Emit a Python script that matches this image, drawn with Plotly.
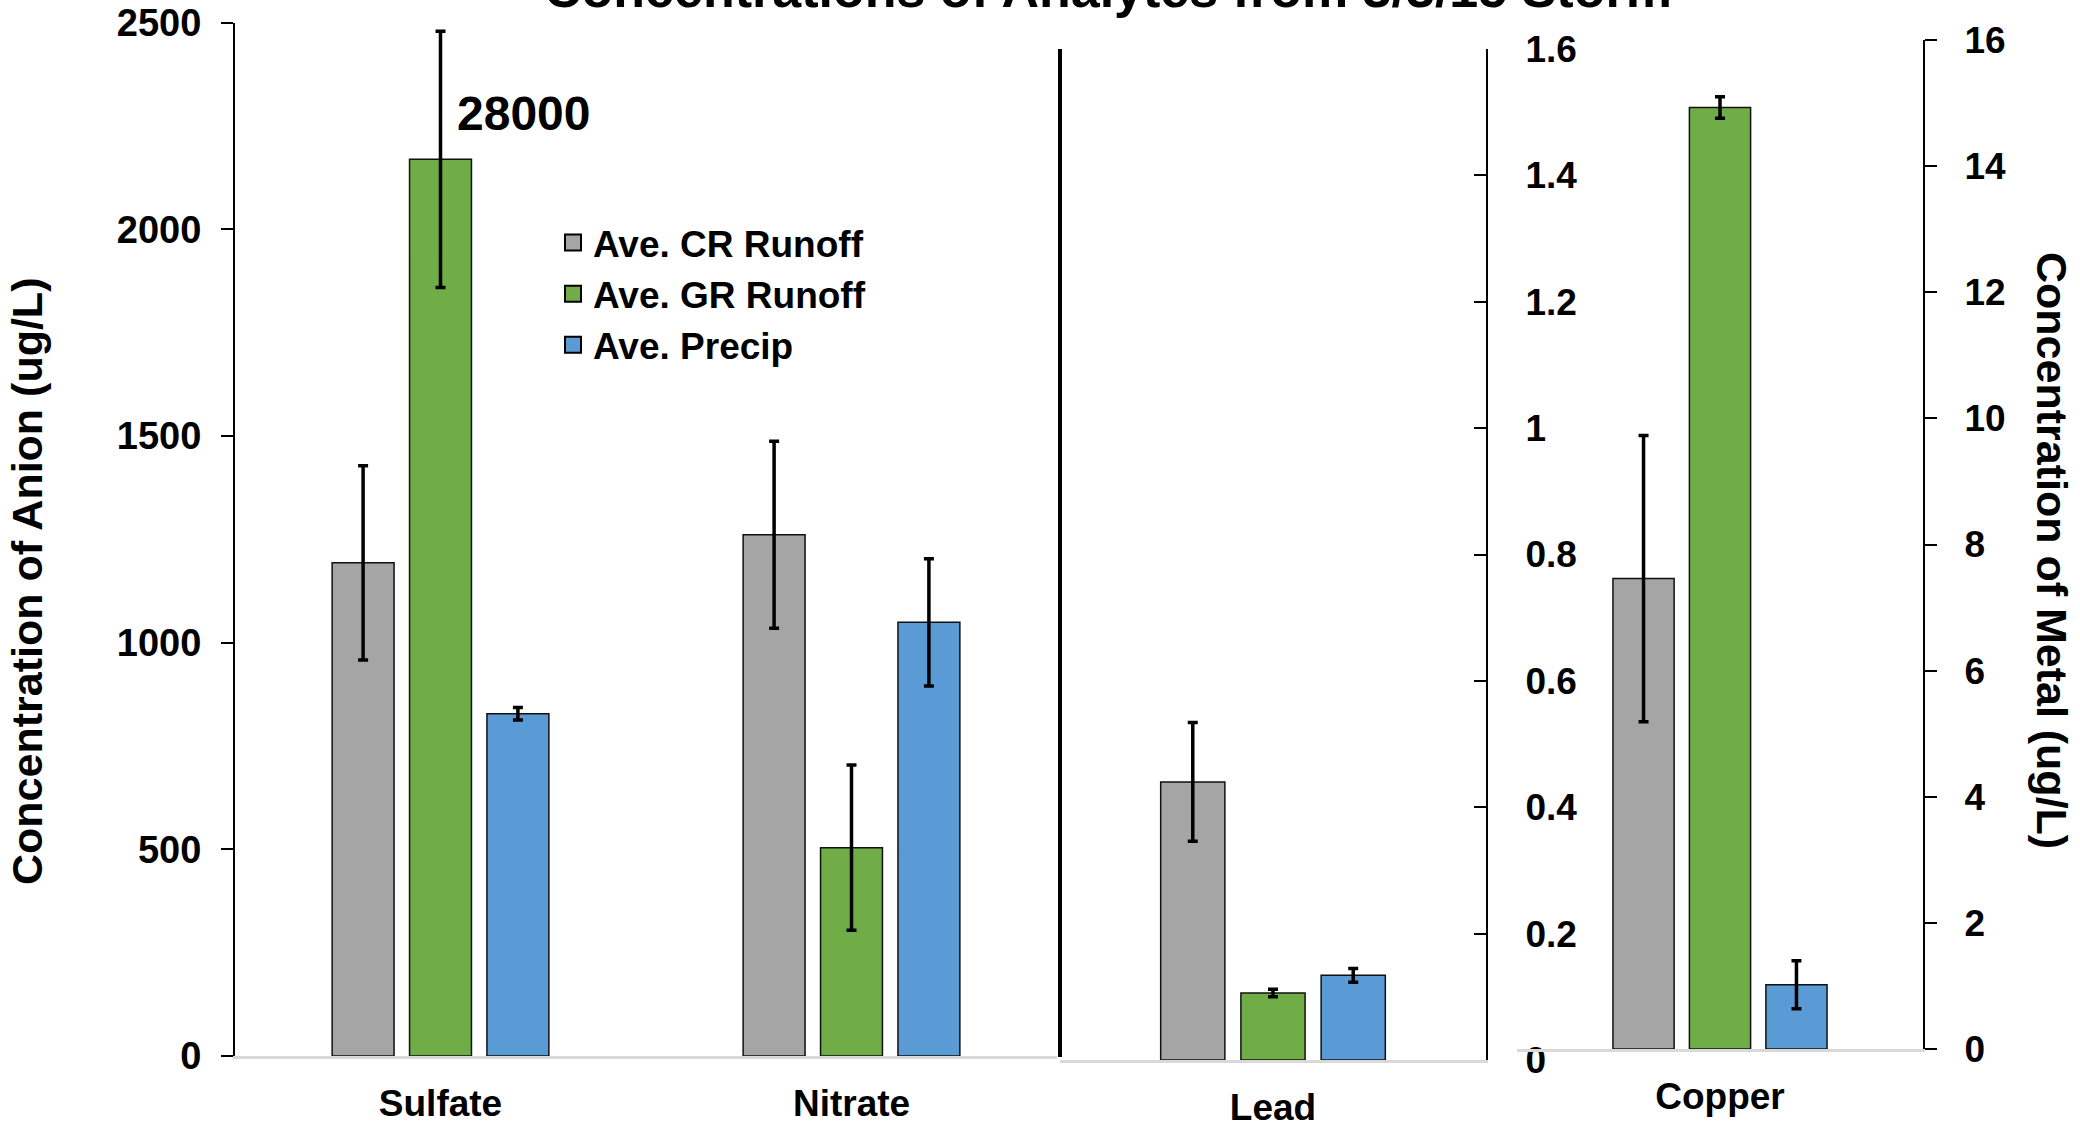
import plotly.graph_objects as go

# ---- data -------------------------------------------------------------
series_names = ["Ave. CR Runoff", "Ave. GR Runoff", "Ave. Precip"]
series_colors = ["#A5A5A5", "#70AD47", "#5B9BD5"]

# anions (ug/L), left axis
anion_categories = ["Sulfate", "Nitrate"]
cr_anion = [1193, 1261]
cr_anion_err = [235, 226]
gr_anion = [2169, 504]
gr_anion_err = [310, 200]
precip_anion = [828, 1049]
precip_anion_err = [15, 154]
sulfate_gr_reported = "28000"   # off-scale value printed above the truncated bar

# lead (ug/L), middle axis
lead_category = ["Lead"]
cr_lead = [0.44]
cr_lead_err = [0.094]
gr_lead = [0.106]
gr_lead_err = [0.006]
precip_lead = [0.134]
precip_lead_err = [0.011]

# copper (ug/L), right axis
copper_category = ["Copper"]
cr_copper = [7.46]
cr_copper_err = [2.27]
gr_copper = [14.93]
gr_copper_err = [0.17]
precip_copper = [1.02]
precip_copper_err = [0.38]

anion_ticks = [0, 500, 1000, 1500, 2000, 2500]
lead_ticks = [0, 0.2, 0.4, 0.6, 0.8, 1, 1.2, 1.4, 1.6]
copper_ticks = [0, 2, 4, 6, 8, 10, 12, 14, 16]

# ---- styling ----------------------------------------------------------
FONT = "Liberation Sans, Arial, sans-serif"
W, H = 2080, 1134


def bold(size):
    return dict(family=FONT, size=size, color="black", weight="bold")


fig = go.Figure()

panels = [
    ("x", "y", anion_categories,
     [(cr_anion, cr_anion_err), (gr_anion, gr_anion_err), (precip_anion, precip_anion_err)]),
    ("x2", "y2", lead_category,
     [(cr_lead, cr_lead_err), (gr_lead, gr_lead_err), (precip_lead, precip_lead_err)]),
    ("x3", "y3", copper_category,
     [(cr_copper, cr_copper_err), (gr_copper, gr_copper_err), (precip_copper, precip_copper_err)]),
]

for xa, ya, cats, series in panels:
    for name, color, (vals, errs) in zip(series_names, series_colors, series):
        fig.add_trace(go.Bar(
            x=cats, y=vals, name=name, xaxis=xa, yaxis=ya,
            marker=dict(color=color, line=dict(color="#111111", width=1.5)),
            error_y=dict(type="data", array=errs, visible=True,
                         color="black", thickness=3.5, width=5),
            offsetgroup=name, showlegend=False,
        ))

# legend entries with square swatches
for name, color in zip(series_names, series_colors):
    fig.add_trace(go.Scatter(
        x=[None], y=[None], mode="markers", name=name,
        marker=dict(symbol="square", size=16, color=color,
                    line=dict(color="black", width=2)),
        xaxis="x", yaxis="y",
    ))


def px_x(p):
    return p / W


def px_y(p):
    return 1 - p / H


cat_axis = dict(showline=True, linecolor="#D9D9D9", linewidth=3, ticks="",
                showgrid=False, zeroline=False, tickfont=bold(37),
                ticklabelstandoff=13, fixedrange=True, automargin=False)

fig.update_layout(
    width=W, height=H, autosize=False,
    margin=dict(l=0, r=0, t=0, b=0, pad=0, autoexpand=False),
    paper_bgcolor="white", plot_bgcolor="rgba(0,0,0,0)",
    barmode="group", bargap=0.435, bargroupgap=0.2,
    showlegend=True,
    legend=dict(x=px_x(553), y=px_y(212), xanchor="left", yanchor="top",
                font=bold(37), bgcolor="rgba(0,0,0,0)", itemwidth=30,
                tracegroupgap=0),
    xaxis=dict(domain=[px_x(235), px_x(1057)], anchor="y", **cat_axis),
    yaxis=dict(domain=[px_y(1056), px_y(22.5)], anchor="x", range=[0, 2500],
               tickvals=anion_ticks, showline=True, linecolor="black",
               linewidth=2, ticks="outside", ticklen=12, tickwidth=2,
               tickcolor="black", showgrid=False, zeroline=False,
               tickfont=bold(38), ticklabelstandoff=12, fixedrange=True,
               automargin=False),
    xaxis2=dict(domain=[px_x(1060), px_x(1486)], anchor="y2", **cat_axis),
    yaxis2=dict(domain=[px_y(1060), px_y(49)], anchor="x2", side="right",
                range=[0, 1.6], tickvals=lead_ticks, showline=True,
                linecolor="black", linewidth=2, ticks="inside", ticklen=12,
                tickwidth=2, tickcolor="black", showgrid=False, zeroline=False,
                tickfont=bold(37), ticklabelstandoff=30, fixedrange=True,
                automargin=False),
    xaxis3=dict(domain=[px_x(1517), px_x(1923)], anchor="y3", **cat_axis),
    yaxis3=dict(domain=[px_y(1049), px_y(40)], anchor="x3", side="right",
                range=[0, 16], tickvals=copper_ticks, showline=True,
                linecolor="black", linewidth=2, ticks="outside", ticklen=12,
                tickwidth=2, tickcolor="black", showgrid=False, zeroline=False,
                tickfont=bold(37), ticklabelstandoff=20, fixedrange=True,
                automargin=False),
)

# heavy separator between the anion and metal panels
fig.add_shape(type="line", xref="x2 domain", yref="y2 domain",
              x0=0, x1=0, y0=0.003, y1=1,
              line=dict(color="black", width=4))

annotations = [
    # chart title (partly above the page edge)
    dict(text="Concentrations of Analytes from 3/3/15 Storm",
         xref="paper", yref="paper", x=px_x(1108), y=px_y(-11),
         xanchor="center", yanchor="middle", showarrow=False, font=bold(52)),
    # axis titles
    dict(text="Concentration of Anion (ug/L)", xref="paper", yref="paper",
         x=px_x(27), y=px_y(582), xanchor="center", yanchor="middle",
         textangle=-90, showarrow=False, font=bold(43)),
    dict(text="Concentration of Metal (ug/L)", xref="paper", yref="paper",
         x=px_x(2052), y=px_y(550), xanchor="center", yanchor="middle",
         textangle=90, showarrow=False, font=bold(43)),
    # reported value for the truncated sulfate bar
    dict(text=sulfate_gr_reported, xref="x", yref="y", x="Sulfate", y=2280,
         xanchor="left", yanchor="middle", xshift=14, showarrow=False,
         font=bold(48)),
]
fig.update_layout(annotations=annotations)

fig.write_html("out.html")
